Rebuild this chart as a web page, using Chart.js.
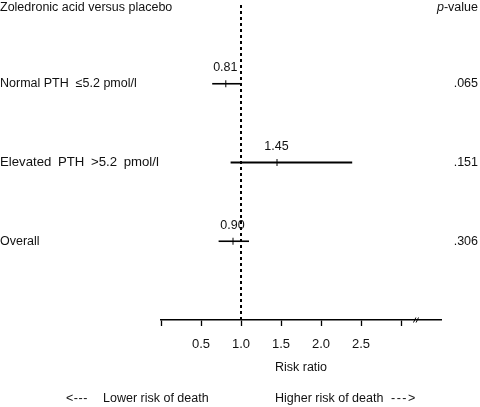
<!DOCTYPE html>
<html>
<head>
<meta charset="utf-8">
<script src="https://cdn.jsdelivr.net/npm/chart.js@4"></script>
<style>
  html, body { margin: 0; padding: 0; background: #fff; }
  #wrap { width: 480px; height: 407px; position: relative; }
</style>
</head>
<body>
<div id="wrap"><canvas id="forest"></canvas></div>
<script>
// ===== 数据 =====
var categories = ['Normal PTH  \u22645.2 pmol/l', 'Elevated PTH >5.2 pmol/l', 'Overall'];
var estimates = [0.81, 1.45, 0.90];
var lowerCI = [0.64, 0.87, 0.72];
var upperCI = [1.01, 2.39, 1.10];
var pValues = ['.065', '.151', '.306'];
var tickValues = [0.5, 1.0, 1.5, 2.0, 2.5];
var axisBreakAt = 3.2;
var refValue = 1.0;

var FONT = '"Liberation Sans", Arial, sans-serif';
var INK = '#111';

// ===== 数据集 =====
var datasets = [];

// 参考线 (RR = 1)
datasets.push({
  data: [{ x: refValue, y: 0 }, { x: refValue, y: categories.length + 1 }],
  showLine: true,
  borderColor: '#000',
  borderWidth: 2,
  borderDash: [3, 3],
  pointRadius: 0
});

// 置信区间
categories.forEach(function(c, i) {
  datasets.push({
    data: [{ x: lowerCI[i], y: i + 1 }, { x: upperCI[i], y: i + 1 }],
    showLine: true,
    borderColor: '#000',
    borderWidth: i === 1 ? 2.2 : 1.6,
    pointRadius: 0
  });
});

// 点估计
datasets.push({
  data: estimates.map(function(v, i) { return { x: v, y: i + 1 }; }),
  showLine: false,
  pointStyle: 'line',
  rotation: 90,
  pointRadius: 3.5,
  borderColor: '#000',
  borderWidth: 1
});

// ===== 文本插件 =====
var textPlugin = {
  id: 'forestText',
  afterDraw: function(chart) {
    var ctx = chart.ctx;
    var xs = chart.scales.x;
    var ys = chart.scales.y;
    ctx.save();
    ctx.fillStyle = INK;
    ctx.textBaseline = 'middle';
    ctx.font = '12.5px ' + FONT;

    ctx.textAlign = 'left';
    ctx.fillText('Zoledronic acid versus placebo', 0, 8);

    // p-value 标题
    var restW = ctx.measureText('-value').width;
    ctx.font = 'italic 12.5px ' + FONT;
    var pW = ctx.measureText('p').width;
    var px = 478 - restW - pW;
    ctx.fillText('p', px, 8);
    ctx.font = '12.5px ' + FONT;
    ctx.fillText('-value', px + pW, 8);

    categories.forEach(function(c, i) {
      var y = ys.getPixelForValue(i + 1);
      ctx.textAlign = 'left';
      if (i === 1) {
        // 原图这一行字略宽
        ctx.font = '13.2px ' + FONT;
        ctx.wordSpacing = '3px';
      }
      ctx.fillText(c, 0, y);
      ctx.font = '12.5px ' + FONT;
      ctx.wordSpacing = '0px';
      ctx.textAlign = 'right';
      ctx.fillText(pValues[i], 478, y);
      ctx.textAlign = 'center';
      ctx.fillText(estimates[i].toFixed(2), xs.getPixelForValue(estimates[i]) - 0.5, y - 16);
    });

    // 坐标轴断点 //
    var bx = xs.getPixelForValue(axisBreakAt) - 1;
    var by = xs.top;
    ctx.strokeStyle = '#000';
    ctx.lineWidth = 1;
    [-1.3, 1.3].forEach(function(d) {
      ctx.beginPath();
      ctx.moveTo(bx + d - 1.2, by + 2.5);
      ctx.lineTo(bx + d + 1.2, by - 2.5);
      ctx.stroke();
    });

    // 底部说明
    ctx.textAlign = 'left';
    ctx.letterSpacing = '0.5px';
    ctx.fillText('<---', 66, 399);
    ctx.letterSpacing = '0px';
    ctx.fillText('Lower risk of death', 103, 399);
    ctx.fillText('Higher risk of death', 275, 399);
    ctx.letterSpacing = '1.5px';
    ctx.fillText('--->', 391, 399);
    ctx.letterSpacing = '0px';
    ctx.restore();
  }
};

// ===== 图表 =====
new Chart(document.getElementById('forest'), {
  type: 'scatter',
  data: { datasets: datasets },
  options: {
    responsive: true,
    maintainAspectRatio: false,
    animation: false,
    layout: { padding: { left: 161, right: 39, top: 5, bottom: 0 } },
    plugins: { legend: { display: false }, tooltip: { enabled: false } },
    scales: {
      x: {
        type: 'linear',
        min: 0,
        max: 3.5,
        afterFit: function(s) { s.height = 87; },
        afterBuildTicks: function(s) {
          s.ticks = [0, 0.5, 1, 1.5, 2, 2.5, 3, 3.5].map(function(v) { return { value: v }; });
        },
        border: { display: true, color: '#000', width: 1.5 },
        grid: {
          drawOnChartArea: false,
          drawTicks: true,
          tickLength: 6,
          tickWidth: 1.3,
          tickColor: function(ctx) {
            return ctx.tick && ctx.tick.value >= 3.5 ? 'rgba(0,0,0,0)' : '#000';
          }
        },
        ticks: {
          padding: 11,
          color: INK,
          autoSkip: false,
          maxRotation: 0,
          font: { size: 13, family: FONT },
          callback: function(v) {
            return tickValues.indexOf(v) >= 0 ? v.toFixed(1) : '';
          }
        },
        title: {
          display: true,
          text: 'Risk ratio',
          color: INK,
          font: { size: 12.5, family: FONT },
          padding: { top: 0, bottom: 32 }
        }
      },
      y: {
        type: 'linear',
        display: false,
        reverse: true,
        min: 0,
        max: categories.length + 1
      }
    }
  },
  plugins: [textPlugin]
});
</script>
</body>
</html>
